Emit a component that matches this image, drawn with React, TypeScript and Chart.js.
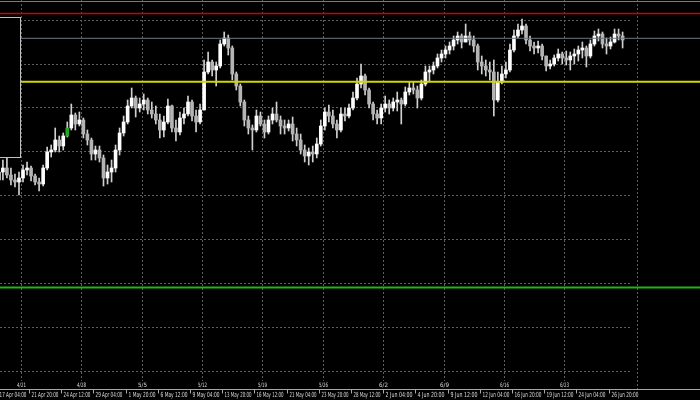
import React, { useEffect, useRef } from 'react';
import { Chart, registerables } from 'chart.js';
Chart.register(...registerables);

// 8-hour candles (each spans two 4h bars)
const opens = [1.0820,1.0828,1.0832,1.0825,1.0820,1.0818,1.0822,1.0830,1.0832,1.0824,
1.0818,1.0816,1.0832,1.0848,1.0850,1.0860,1.0854,1.0864,1.0872,1.0885,
1.0876,1.0880,1.0866,1.0860,1.0846,1.0850,1.0842,1.0822,1.0828,1.0832,
1.0850,1.0867,1.0878,1.0894,1.0902,1.0892,1.0896,1.0900,1.0890,1.0886,
1.0880,1.0870,1.0878,1.0894,1.0872,1.0868,1.0882,1.0886,1.0898,1.0884,
1.0878,1.0890,1.0928,1.0938,1.0930,1.0934,1.0956,1.0962,1.0952,1.0926,
1.0914,1.0898,1.0880,1.0872,1.0870,1.0884,1.0876,1.0868,1.0880,1.0886,
1.0880,1.0874,1.0872,1.0876,1.0866,1.0860,1.0850,1.0844,1.0848,1.0846,
1.0856,1.0874,1.0888,1.0884,1.0876,1.0870,1.0886,1.0884,1.0892,1.0902,
1.0916,1.0924,1.0910,1.0896,1.0886,1.0882,1.0892,1.0896,1.0892,1.0898,
1.0900,1.0896,1.0908,1.0912,1.0910,1.0902,1.0916,1.0928,1.0930,1.0934,
1.0942,1.0946,1.0950,1.0954,1.0960,1.0964,1.0958,1.0964,1.0960,1.0954,
1.0938,1.0934,1.0930,1.0928,1.0900,1.0918,1.0926,1.0930,1.0950,1.0964,
1.0970,1.0974,1.0960,1.0954,1.0952,1.0954,1.0944,1.0934,1.0936,1.0942,
1.0946,1.0942,1.0940,1.0944,1.0946,1.0950,1.0952,1.0944,1.0956,1.0964,
1.0966,1.0956,1.0954,1.0958,1.0966,1.0964];

const highs = [1.0835,1.0840,1.0843,1.0832,1.0826,1.0828,1.0835,1.0838,1.0834,1.0826,
1.0822,1.0835,1.0853,1.0855,1.0872,1.0864,1.0867,1.0878,1.0896,1.0887,
1.0888,1.0882,1.0870,1.0862,1.0854,1.0854,1.0845,1.0835,1.0840,1.0855,
1.0872,1.0884,1.0900,1.0912,1.0904,1.0902,1.0906,1.0902,1.0898,1.0894,
1.0886,1.0884,1.0901,1.0895,1.0880,1.0888,1.0892,1.0904,1.0900,1.0890,
1.0896,1.0940,1.0948,1.0940,1.0938,1.0960,1.0968,1.0965,1.0954,1.0928,
1.0916,1.0900,1.0884,1.0875,1.0890,1.0888,1.0880,1.0884,1.0892,1.0898,
1.0884,1.0880,1.0880,1.0883,1.0872,1.0866,1.0855,1.0852,1.0854,1.0862,
1.0880,1.0892,1.0895,1.0890,1.0880,1.0892,1.0892,1.0896,1.0908,1.0922,
1.0936,1.0926,1.0912,1.0898,1.0890,1.0896,1.0904,1.0900,1.0902,1.0908,
1.0902,1.0913,1.0918,1.0918,1.0914,1.0920,1.0934,1.0934,1.0938,1.0946,
1.0950,1.0954,1.0958,1.0964,1.0968,1.0966,1.0976,1.0968,1.0964,1.0956,
1.0944,1.0940,1.0938,1.0940,1.0928,1.0934,1.0938,1.0956,1.0970,1.0976,
1.0981,1.0976,1.0964,1.0958,1.0959,1.0956,1.0944,1.0940,1.0945,1.0951,
1.0948,1.0949,1.0948,1.0951,1.0954,1.0958,1.0954,1.0960,1.0969,1.0971,
1.0968,1.0962,1.0963,1.0971,1.0971,1.0968];

const lows = [1.0815,1.0820,1.0822,1.0815,1.0813,1.0805,1.0818,1.0825,1.0819,1.0815,
1.0809,1.0814,1.0830,1.0843,1.0848,1.0848,1.0850,1.0863,1.0870,1.0870,
1.0874,1.0862,1.0855,1.0840,1.0840,1.0838,1.0814,1.0816,1.0818,1.0828,
1.0845,1.0864,1.0876,1.0892,1.0883,1.0888,1.0890,1.0886,1.0882,1.0876,
1.0862,1.0863,1.0876,1.0868,1.0859,1.0865,1.0876,1.0884,1.0879,1.0868,
1.0876,1.0890,1.0926,1.0924,1.0914,1.0932,1.0954,1.0945,1.0920,1.0910,
1.0894,1.0874,1.0866,1.0850,1.0868,1.0874,1.0862,1.0866,1.0876,1.0878,
1.0866,1.0866,1.0869,1.0859,1.0854,1.0846,1.0838,1.0835,1.0838,1.0842,
1.0854,1.0870,1.0878,1.0872,1.0862,1.0868,1.0879,1.0882,1.0890,1.0900,
1.0912,1.0905,1.0892,1.0880,1.0876,1.0876,1.0888,1.0886,1.0889,1.0889,
1.0876,1.0894,1.0905,1.0906,1.0892,1.0900,1.0914,1.0919,1.0926,1.0932,
1.0938,1.0942,1.0946,1.0950,1.0956,1.0952,1.0958,1.0955,1.0948,1.0930,
1.0926,1.0924,1.0920,1.0884,1.0898,1.0916,1.0922,1.0928,1.0948,1.0962,
1.0966,1.0956,1.0949,1.0946,1.0947,1.0940,1.0929,1.0931,1.0934,1.0939,
1.0936,1.0935,1.0930,1.0936,1.0939,1.0942,1.0933,1.0942,1.0954,1.0959,
1.0952,1.0946,1.0951,1.0957,1.0960,1.0952];

const closes = [1.0828,1.0832,1.0825,1.0820,1.0818,1.0822,1.0830,1.0832,1.0824,1.0818,
1.0816,1.0832,1.0848,1.0850,1.0860,1.0854,1.0864,1.0872,1.0885,1.0876,
1.0880,1.0866,1.0860,1.0846,1.0850,1.0842,1.0822,1.0828,1.0832,1.0850,
1.0867,1.0878,1.0894,1.0902,1.0892,1.0896,1.0900,1.0890,1.0886,1.0880,
1.0870,1.0878,1.0894,1.0872,1.0868,1.0882,1.0886,1.0898,1.0884,1.0878,
1.0890,1.0928,1.0938,1.0930,1.0934,1.0956,1.0962,1.0952,1.0926,1.0914,
1.0898,1.0880,1.0872,1.0870,1.0884,1.0876,1.0868,1.0880,1.0886,1.0880,
1.0874,1.0872,1.0876,1.0866,1.0860,1.0850,1.0844,1.0848,1.0846,1.0856,
1.0874,1.0888,1.0884,1.0876,1.0870,1.0886,1.0884,1.0892,1.0902,1.0916,
1.0924,1.0910,1.0896,1.0886,1.0882,1.0892,1.0896,1.0892,1.0898,1.0900,
1.0896,1.0908,1.0912,1.0910,1.0902,1.0916,1.0928,1.0930,1.0934,1.0942,
1.0946,1.0950,1.0954,1.0960,1.0964,1.0958,1.0964,1.0960,1.0954,1.0938,
1.0934,1.0930,1.0928,1.0900,1.0918,1.0926,1.0930,1.0950,1.0964,1.0970,
1.0974,1.0960,1.0954,1.0952,1.0954,1.0944,1.0934,1.0936,1.0942,1.0946,
1.0942,1.0940,1.0944,1.0946,1.0950,1.0952,1.0944,1.0956,1.0964,1.0966,
1.0956,1.0954,1.0958,1.0966,1.0964,1.0960];

const highlightedCandle = 17;

// time axis labels (one every 16 four-hour bars) and weekly separators (every 30 bars)
const timeLabels = ['17 Apr 04:00','21 Apr 20:00','24 Apr 12:00','29 Apr 04:00','1 May 20:00','6 May 12:00','9 May 04:00','13 May 20:00','16 May 12:00','21 May 04:00','23 May 20:00','28 May 12:00','2 Jun 04:00','4 Jun 20:00','9 Jun 12:00','12 Jun 04:00','16 Jun 20:00','19 Jun 12:00','24 Jun 04:00','26 Jun 20:00'];
const weekLabels = ['4/21','4/28','5/5','5/12','5/19','5/26','6/2','6/9','6/16','6/23'];

// horizontal line objects
const levelPrices = [1.09865, 1.09617, 1.09182, 1.07125];
const levelColors = ['#d40000', '#6e7686', '#d4d400', '#1eb41e'];
const levelWidths = [1.5, 1, 2, 2];

// rectangle object (bars / prices)
const rectBars = [-20, 11.5];
const rectPrices = [1.0983, 1.0843];

const X_MIN = 1.5606;
const X_MAX = 349.47;
const Y_MIN = 1.0611;
const Y_MAX = 1.1;
const GRID_TOP = 1.09805;
const GRID_STEP = 0.0044;
const GRID_END_BAR = 315.7;
const SHIFT_BAR = 318.2;

export default function App() {
  const ref = useRef<HTMLCanvasElement>(null);
  useEffect(() => {
    document.body.style.margin = '0';
    document.body.style.background = '#000';
    const canvas = ref.current!;
    const candleX = opens.map((_, k) => 1 + 2 * k);
    const wickData = candleX.map((x, k) => ({ x, y: [lows[k], highs[k]] }));
    const bodyData = candleX.map((x, k) => ({ x, y: [opens[k], closes[k]] }));
    const bodyColors = opens.map((o, k) =>
      k === highlightedCandle ? '#22a822' : closes[k] >= o ? '#ffffff' : '#b4b4b4');

    const levelSets: any[] = levelPrices.map((p, i) => ({
      type: 'line',
      data: [{ x: X_MIN, y: p }, { x: X_MAX, y: p }],
      borderColor: levelColors[i],
      borderWidth: levelWidths[i],
      pointRadius: 0,
      order: 0,
    }));

    const drawPlugin = {
      id: 'mt',
      beforeDraw(chart: any) {
        const c = chart.ctx;
        c.save();
        c.fillStyle = '#000';
        c.fillRect(0, 0, chart.width, chart.height);
        c.restore();
      },
      beforeDatasetsDraw(chart: any) {
        const c = chart.ctx;
        const xs = chart.scales.x;
        const ys = chart.scales.y;
        const area = chart.chartArea;
        c.save();
        c.strokeStyle = '#5e5e5e';
        c.lineWidth = 1;
        c.setLineDash([2, 2]);
        const xEnd = xs.getPixelForValue(GRID_END_BAR);
        for (let p = GRID_TOP; p > Y_MIN; p -= GRID_STEP) {
          const y = Math.round(ys.getPixelForValue(p)) + 0.5;
          c.beginPath();
          c.moveTo(0, y);
          c.lineTo(xEnd, y);
          c.stroke();
        }
        weekLabels.forEach((_, i) => {
          const x = Math.round(xs.getPixelForValue(12 + 30 * i)) + 0.5;
          c.beginPath();
          c.moveTo(x, area.top);
          c.lineTo(x, area.bottom - 8);
          c.stroke();
        });
        const sx = Math.round(xs.getPixelForValue(SHIFT_BAR)) + 0.5;
        c.beginPath();
        c.moveTo(sx, area.top);
        c.lineTo(sx, area.bottom);
        c.stroke();
        c.restore();
      },
      afterDatasetsDraw(chart: any) {
        const c = chart.ctx;
        const xs = chart.scales.x;
        const ys = chart.scales.y;
        const x1 = Math.round(xs.getPixelForValue(rectBars[0])) + 0.5;
        const x2 = Math.round(xs.getPixelForValue(rectBars[1])) + 0.5;
        const y1 = Math.round(ys.getPixelForValue(rectPrices[0])) + 0.5;
        const y2 = Math.round(ys.getPixelForValue(rectPrices[1])) + 0.5;
        c.save();
        c.fillStyle = '#000';
        c.fillRect(x1, y1, x2 - x1, y2 - y1);
        c.strokeStyle = '#c0c0c0';
        c.lineWidth = 1;
        c.strokeRect(x1, y1, x2 - x1, y2 - y1);
        c.restore();
      },
      afterDraw(chart: any) {
        const c = chart.ctx;
        const xs = chart.scales.x;
        const area = chart.chartArea;
        c.save();
        c.strokeStyle = '#7a7a7a';
        c.lineWidth = 1;
        c.beginPath();
        c.moveTo(0, 1.5);
        c.lineTo(chart.width, 1.5);
        c.stroke();
        c.strokeStyle = '#a8a8a8';
        const ay = area.bottom + 0.5;
        c.beginPath();
        c.moveTo(0, ay);
        c.lineTo(chart.width, ay);
        c.stroke();
        c.fillStyle = '#dcdcdc';
        c.textBaseline = 'middle';
        c.textAlign = 'left';
        c.font = '7px "DejaVu Sans"';
        timeLabels.forEach((t, i) => {
          const x = Math.round(xs.getPixelForValue(16 * i)) + 0.5;
          c.beginPath();
          c.moveTo(x, ay);
          c.lineTo(x, ay + 4);
          c.stroke();
          c.fillText(t, x + 2, ay + 5.5, 27);
        });
        c.textAlign = 'center';
        c.font = '6px "DejaVu Sans"';
        weekLabels.forEach((t, i) => {
          const x = Math.round(xs.getPixelForValue(12 + 30 * i)) + 0.5;
          c.fillText(t, x, ay - 4, 9);
        });
        c.restore();
      },
    };

    const chart = new Chart(canvas, {
      type: 'bar',
      data: {
        datasets: [
          ...levelSets,
          {
            type: 'bar',
            data: bodyData as any,
            backgroundColor: bodyColors,
            barThickness: 3,
            minBarLength: 1,
            grouped: false,
            borderWidth: 0,
            order: 1,
          },
          {
            type: 'bar',
            data: wickData as any,
            backgroundColor: '#d0d0d0',
            barThickness: 1,
            grouped: false,
            borderWidth: 0,
            order: 2,
          },
        ],
      },
      options: {
        animation: false,
        responsive: false,
        maintainAspectRatio: false,
        layout: { padding: { left: 0, right: 0, top: 0, bottom: 11 } },
        scales: {
          x: { type: 'linear', min: X_MIN, max: X_MAX, display: false, offset: false },
          y: { type: 'linear', min: Y_MIN, max: Y_MAX, display: false },
        },
        plugins: { legend: { display: false }, tooltip: { enabled: false } },
      },
      plugins: [drawPlugin],
    } as any);
    return () => chart.destroy();
  }, []);
  return (
    <div style={{ width: 700, height: 400, background: '#000' }}>
      <canvas ref={ref} width={700} height={400} style={{ display: 'block' }} />
    </div>
  );
}
